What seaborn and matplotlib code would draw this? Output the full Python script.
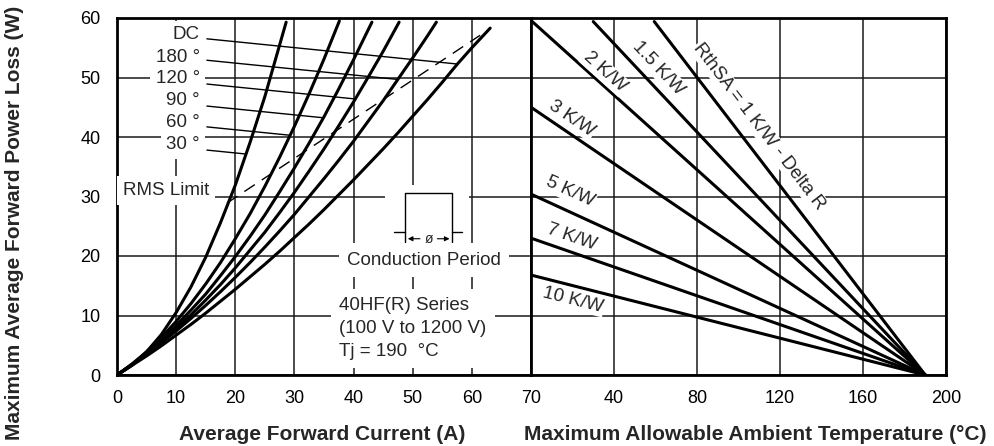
import numpy as np
import matplotlib
matplotlib.use('Agg')
import matplotlib.pyplot as plt
from matplotlib.patches import Rectangle
import seaborn as sns

# left panel: power loss vs average current, one curve per conduction angle
cur_30 = [0, 2.5, 5, 7.5, 10, 12.5, 15, 17.5, 20, 22.5, 25, 28.6]
loss_30 = [0, 1.6, 3.9, 6.8, 10.5, 14.8, 19.8, 25.6, 31.9, 39.1, 46.8, 59.3]
cur_60 = [0, 2.5, 5, 7.5, 10, 12.5, 15, 17.5, 20, 22.5, 25, 27.5, 30, 32.5, 35, 37.6]
loss_60 = [0, 1.8, 3.9, 6.3, 9.0, 12.0, 15.3, 18.9, 22.9, 27.1, 31.7, 36.6, 41.8, 47.3, 53.1, 59.5]
cur_90 = [0, 2.5, 5, 7.5, 10, 12.5, 15, 17.5, 20, 22.5, 25, 27.5, 30, 32.5, 35, 37.5, 40, 43.1]
loss_90 = [0, 1.8, 3.7, 5.9, 8.3, 10.9, 13.6, 16.7, 19.9, 23.3, 26.9, 30.8, 34.8, 39.0,
           43.4, 48.1, 53.0, 59.3]
cur_120 = [0, 2.5, 5, 7.5, 10, 12.5, 15, 17.5, 20, 22.5, 25, 27.5, 30, 32.5, 35, 37.5,
           40, 42.5, 45, 47.7]
loss_120 = [0, 1.7, 3.6, 5.6, 7.8, 10.1, 12.6, 15.2, 18.0, 21.0, 24.0, 27.3, 30.7, 34.3,
            38.0, 41.9, 45.9, 50.1, 54.4, 59.3]
cur_180 = [0, 2.5, 5, 7.5, 10, 12.5, 15, 17.5, 20, 22.5, 25, 27.5, 30, 32.5, 35, 37.5,
           40, 42.5, 45, 47.5, 50, 52.5, 54]
loss_180 = [0, 1.7, 3.5, 5.4, 7.4, 9.5, 11.7, 14.0, 16.4, 18.9, 21.5, 24.2, 27.0, 30.0,
            33.0, 36.1, 39.3, 42.7, 46.1, 49.7, 53.3, 57.0, 59.3]
cur_dc = [0, 2.5, 5, 7.5, 10, 12.5, 15, 17.5, 20, 22.5, 25, 27.5, 30, 32.5, 35, 37.5,
          40, 42.5, 45, 47.5, 50, 52.5, 55, 57.5, 60, 63.1]
loss_dc = [0, 1.6, 3.2, 4.9, 6.7, 8.5, 10.4, 12.4, 14.4, 16.5, 18.6, 20.8, 23.1, 25.4,
           27.8, 30.3, 32.8, 35.4, 38.0, 40.7, 43.5, 46.3, 49.2, 52.2, 55.0, 58.3]

angle_names = ['DC', '180 °', '120 °', '90 °', '60 °', '30 °']
angle_label_loss = [57.2, 53.4, 49.9, 46.2, 42.5, 38.7]
leader_start = [56.5, 52.9, 48.9, 45.2, 41.7, 37.8]   # W where each leader leaves the label

rms_cur = [18.6, 61.4]
rms_loss = [28.9, 57.1]

# right panel: derating lines, all ending at Tj = 190 °C, 0 W
tj = 190
rth_names = ['RthSA = 1 K/W - Delta R', '1.5 K/W', '2 K/W', '3 K/W', '5 K/W', '7 K/W', '10 K/W']
rth_start_temp = [59.4, 30.0, 0.6, 0, 0, 0, 0]
rth_start_loss = [59.4, 59.4, 59.4, 45.0, 30.4, 23.0, 16.8]
rth_label_temp = [110.0, 61.2, 35.7, 19.6, 18.8, 19.6, 20.3]
rth_label_loss = [41.7, 51.6, 50.9, 43.1, 30.8, 23.2, 12.6]

FS = 13.5

sns.set_theme(style='white')
plt.rcParams['font.family'] = ['Liberation Sans', 'DejaVu Sans']
plt.rcParams['font.size'] = FS

fig = plt.figure(figsize=(9.94, 4.46), dpi=100)
ax1 = fig.add_axes([117 / 994, 71 / 446, 414 / 994, 357 / 446])
ax2 = fig.add_axes([531 / 994, 71 / 446, 415 / 994, 357 / 446])

for ax in (ax1, ax2):
    ax.set_ylim(0, 60)
    ax.set_yticks(range(0, 61, 10))
    ax.grid(True, color='#1a1a1a', linewidth=1.1)
    ax.set_axisbelow(True)
    for s in ax.spines.values():
        s.set_linewidth(2.0)
        s.set_color('black')
    ax.tick_params(length=0, labelsize=13, colors='black')
    ax.tick_params(axis='x', pad=11)
    ax.tick_params(axis='y', pad=12)

ax1.set_xlim(0, 70)
ax1.set_xticks(range(0, 71, 10))
ax2.set_xlim(0, 200)
ax2.set_xticks([0, 40, 80, 120, 160, 200])
ax2.set_xticklabels(['', '40', '80', '120', '160', '200'])
ax2.set_yticklabels([])

curves = [(cur_dc, loss_dc), (cur_180, loss_180), (cur_120, loss_120),
          (cur_90, loss_90), (cur_60, loss_60), (cur_30, loss_30)]
for x, y in curves:
    sns.lineplot(x=x, y=y, ax=ax1, color='black', linewidth=2.2, estimator=None, sort=False)

sns.lineplot(x=rms_cur, y=rms_loss, ax=ax1, color='black', linewidth=1.0,
             linestyle=(0, (9, 6)), estimator=None)

# leader lines from the angle labels to their curves
for (x, y), w0 in zip(curves, leader_start):
    xs = np.linspace(15.2, max(x), 600)
    lead = w0 - 0.1 * (xs - 15.2)
    diff = np.interp(xs, x, y) - lead
    k = np.argmax(diff >= 0)
    ax1.plot([15.2, xs[k]], [w0, lead[k]], color='black', linewidth=1.0)

for name, w in zip(angle_names, angle_label_loss):
    ax1.text(14.0, w, name, ha='right', va='center', fontsize=FS, zorder=4,
             bbox=dict(facecolor='white', edgecolor='none', pad=4))
ax1.text(1.0, 31.0, 'RMS Limit', ha='left', va='center', fontsize=FS, zorder=4,
         bbox=dict(facecolor='white', edgecolor='none', pad=4))

# conduction period sketch
ax1.add_patch(Rectangle((45.3, 21.8), 14.3, 10.1, facecolor='white', edgecolor='none', zorder=3))
bx0, bx1, top, base, bot = 48.7, 56.7, 30.6, 24.0, 22.4
ax1.plot([bx0, bx0, bx1, bx1], [bot, top, top, bot], color='black', linewidth=1.0, zorder=4)
ax1.plot([46.9, bx0], [base, base], color='black', linewidth=1.0, zorder=4)
ax1.plot([bx1, 58.4], [base, base], color='black', linewidth=1.0, zorder=4)
mid = (bx0 + bx1) / 2
ax1.annotate('', xy=(bx0, 22.9), xytext=(mid - 1.0, 22.9),
             arrowprops=dict(arrowstyle='-|>', color='black', lw=0.8, mutation_scale=7), zorder=4)
ax1.annotate('', xy=(bx1, 22.9), xytext=(mid + 1.0, 22.9),
             arrowprops=dict(arrowstyle='-|>', color='black', lw=0.8, mutation_scale=7), zorder=4)
ax1.text(mid, 22.9, 'ø', ha='center', va='center', fontsize=10, zorder=5)

ax1.text(51.9, 19.3, 'Conduction Period', ha='center', va='center', fontsize=FS, zorder=4,
         bbox=dict(facecolor='white', edgecolor='none', pad=6))
ax1.text(37.6, 13.1, '40HF(R) Series\n(100 V to 1200 V)\nTj = 190  °C', ha='left', va='top',
         linespacing=1.45, fontsize=FS, zorder=4,
         bbox=dict(facecolor='white', edgecolor='none', pad=6))

# right panel lines and their labels
for t0, w0 in zip(rth_start_temp, rth_start_loss):
    sns.lineplot(x=[t0, tj], y=[w0, 0], ax=ax2, color='black', linewidth=2.2, estimator=None)

fig.canvas.draw()
for name, t0, w0, lt, lw in zip(rth_names, rth_start_temp, rth_start_loss,
                                rth_label_temp, rth_label_loss):
    p0 = ax2.transData.transform((t0, w0))
    p1 = ax2.transData.transform((tj, 0))
    ang = np.degrees(np.arctan2(p1[1] - p0[1], p1[0] - p0[0]))
    ax2.text(lt, lw, name, ha='center', va='center', rotation=ang, rotation_mode='anchor',
             fontsize=FS, zorder=4, bbox=dict(facecolor='white', edgecolor='none', pad=1))

fig.text(15 / 994, 0.5, 'Maximum Average Forward Power Loss (W)', rotation=90,
         ha='center', va='center', fontsize=15, fontweight='bold')
fig.text(322 / 994, 12 / 446, 'Average Forward Current (A)', ha='center', va='center',
         fontsize=15, fontweight='bold')
fig.text(755 / 994, 12 / 446, 'Maximum Allowable Ambient Temperature (°C)', ha='center',
         va='center', fontsize=15, fontweight='bold')

fig.savefig('out.png', dpi=100)
